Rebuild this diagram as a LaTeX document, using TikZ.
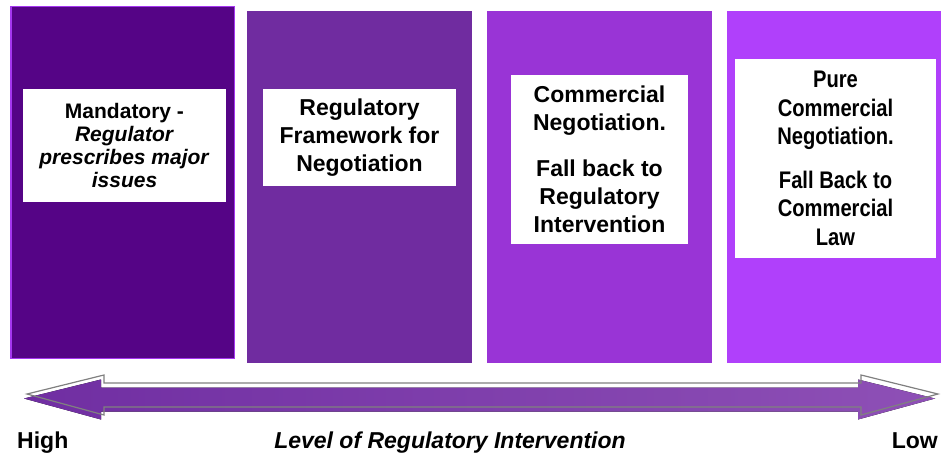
\documentclass[tikz,border=0pt]{standalone}
\usepackage{fontspec}
\setmainfont{Liberation Sans}
\newfontfamily\narrowsans[FakeStretch=0.84]{Liberation Sans}
\usepackage{tikz}
\usetikzlibrary{positioning}
\definecolor{mandatory}{RGB}{85,4,134}
\definecolor{mandedge}{RGB}{165,55,240}
\definecolor{framework}{RGB}{112,44,160}
\definecolor{fallback}{RGB}{153,52,214}
\definecolor{purecomm}{RGB}{176,64,251}
\definecolor{arrowleft}{RGB}{112,46,162}
\definecolor{arrowright}{RGB}{142,80,182}

\begin{document}
\begin{tikzpicture}
[x=1pt, y=-1pt,
column/.style={rectangle, inner sep=0pt, minimum width=225pt, minimum height=352pt},
textbox/.style={rectangle, fill=white, inner sep=0pt, align=center, font=\bfseries\fontsize{23}{28}\selectfont},
scalelabel/.style={font=\bfseries\fontsize{23}{28}\selectfont, inner sep=0pt},
]
\useasboundingbox (0,0) rectangle (941,454);

% the four columns
\node[column, fill=mandatory, draw=mandedge, line width=1.5pt, minimum width=223.5pt, minimum height=351.5pt] (high col) at (122.5,182.5) {};
\node[column, fill=framework] (frame col) at (359,187) {};
\node[column, fill=fallback] (nego col) at (599,187) {};
\node[column, fill=purecomm, minimum width=214pt] (pure col) at (834,187) {};

% white text boxes
\node[textbox, font=\bfseries\fontsize{21}{23.3}\selectfont, minimum width=203pt, minimum height=113pt] (mandatory) at (124.5,145.5)
  {Mandatory -\\ \textit{Regulator}\\ \textit{prescribes major}\\ \textit{issues}};
\node[textbox, minimum width=193pt, minimum height=97pt] (framework) at (359.5,137.5)
  {Regulatory\\ Framework for\\ Negotiation};
\node[textbox, minimum width=177pt, minimum height=169pt] (negotiation) at (599.5,159.5)
  {Commercial\\ Negotiation.\\[18pt] Fall back to\\ Regulatory\\ Intervention};
\node[textbox, font=\narrowsans\bfseries\fontsize{24}{28.5}\selectfont, minimum width=201pt, minimum height=199pt] (pure) at (835.5,158.5)
  {Pure\\ Commercial\\ Negotiation.\\[15pt] Fall Back to\\ Commercial\\ Law};

% level arrow
\fill[left color=arrowleft, right color=arrowright, shift={(-3,4.5)}]
  (27,394) -- (104,375) -- (104,383) -- (861,383) -- (861,375) -- (938,394)
  -- (861,415) -- (861,407) -- (104,407) -- (104,415) -- cycle;
\draw[gray, line width=1.2pt, line join=miter]
  (27,394) -- (104,375) -- (104,383) -- (861,383) -- (861,375) -- (938,394)
  -- (861,415) -- (861,407) -- (104,407) -- (104,415) -- cycle;

% scale labels
\node[scalelabel, anchor=base west] (high) at (17,448) {High};
\node[scalelabel, anchor=base east] (low) at (938,448) {Low};
\node[scalelabel, anchor=base, font=\bfseries\itshape\fontsize{23}{28}\selectfont] (level) at (450,448) {Level of Regulatory Intervention};
\end{tikzpicture}
\end{document}
